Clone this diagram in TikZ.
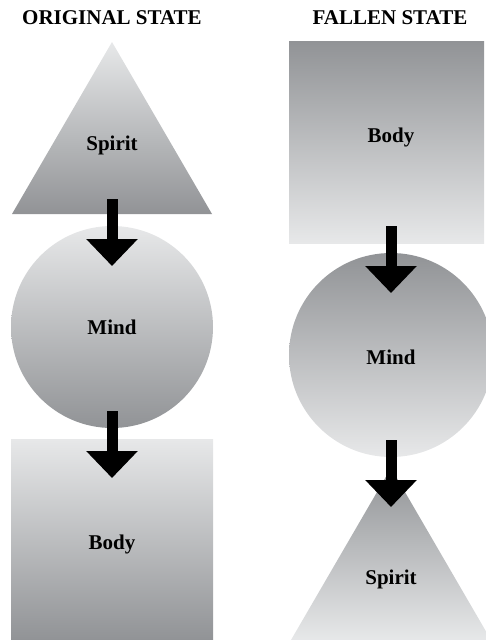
\documentclass[tikz,border=0pt]{standalone}
\usepackage{fontspec}
\setmainfont{Liberation Serif}
\usetikzlibrary{arrows.meta}
\definecolor{shadelight}{RGB}{231,232,233}
\definecolor{shadedark}{RGB}{145,147,150}
\tikzset{
	statetitle/.style={font=\bfseries\fontsize{21}{24}\selectfont, anchor=base},
	partname/.style={font=\bfseries\fontsize{21}{24}\selectfont, anchor=base},
	lightdown/.style={top color=shadelight, bottom color=shadedark},
	darkdown/.style={top color=shadedark, bottom color=shadelight},
	fallarrow/.style={line width=11pt, -{Triangle[width=50pt,length=27pt]}}
}
\begin{document}
\begin{tikzpicture}[x=1pt,y=-1pt]
		\useasboundingbox (0,0) rectangle (486,640);
		% TITLES
		\node (origtitle) [statetitle] at (112,24) {ORIGINAL STATE};
		\node (falltitle) [statetitle] at (390,24) {FALLEN STATE};
		
		% BLOCKS
		\shade[lightdown] (112,42) -- (212,214) -- (12,214) -- cycle;
		\shade[lightdown] (112,327) circle (101);
		\shade[lightdown] (11,439) rectangle (213,640);
		\shade[darkdown] (289,41) rectangle (484,243);
		\shade[darkdown] (391,355) circle (102);
		\shade[darkdown] (391,468) -- (491,640) -- (291,640) -- cycle;
		\node (origspirit) [partname] at (112,150) {Spirit};
		\node (origmind) [partname] at (112,334) {Mind};
		\node (origbody) [partname] at (112,549) {Body};
		\node (fallbody) [partname] at (391,142) {Body};
		\node (fallmind) [partname] at (391,364) {Mind};
		\node (fallspirit) [partname] at (391,584) {Spirit};
		
		% ARROWS
		\coordinate (orig1) at (112,199);
		\coordinate (orig2) at (112,266);
		\coordinate (orig3) at (112,411);
		\coordinate (orig4) at (112,478);
		\coordinate (fall1) at (391,226);
		\coordinate (fall2) at (391,293);
		\coordinate (fall3) at (391,440);
		\coordinate (fall4) at (391,507);
		\draw [fallarrow] (orig1) -- (orig2);
		\draw [fallarrow] (orig3) -- (orig4);
		\draw [fallarrow] (fall1) -- (fall2);
		\draw [fallarrow] (fall3) -- (fall4);
	\end{tikzpicture}
\end{document}
